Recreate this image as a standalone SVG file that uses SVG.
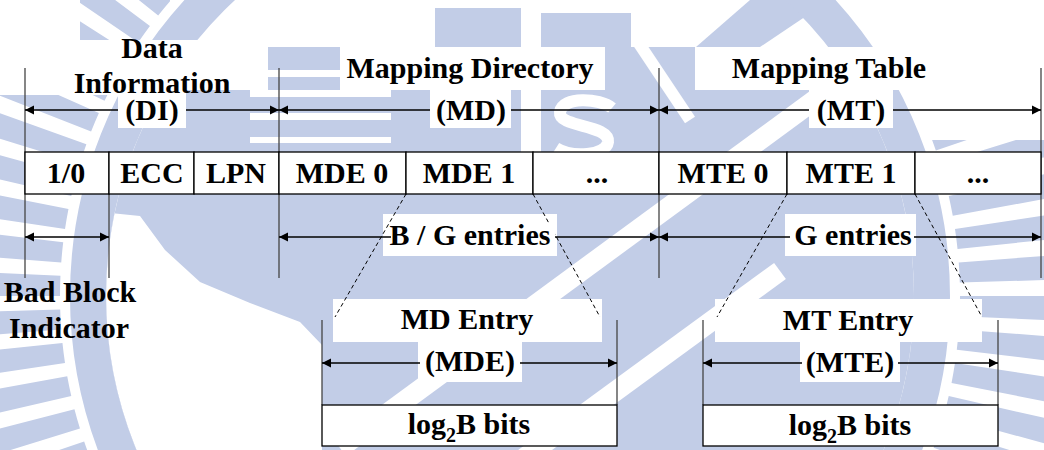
<svg xmlns="http://www.w3.org/2000/svg" width="1044" height="450" viewBox="0 0 1044 450">
  <defs>
    <style>
      .t { font-family: "Liberation Serif", "Times New Roman", serif; font-weight: bold; font-size: 30px; fill: #000; text-anchor: middle; }
      .lbl { fill: #fff; stroke: none; }
      .cell { fill: #fff; stroke: #000; stroke-width: 1.3; }
      .ext { stroke: #444; stroke-width: 1.3; fill: none; }
      .dim { stroke: #000; stroke-width: 1.3; fill: none; marker-start: url(#ah); marker-end: url(#ah); }
      .dash { stroke: #000; stroke-width: 1; stroke-dasharray: 4 3; fill: none; }
      .wm { fill: #c2cde7; stroke: none; }
      .wmw { fill: #fff; stroke: none; }
    </style>
    <marker id="ah" viewBox="0 0 10 10" refX="10" refY="5" markerWidth="9" markerHeight="11" markerUnits="userSpaceOnUse" orient="auto-start-reverse">
      <path d="M0,0 L10,5 L0,10 z" fill="#000"/>
    </marker>
    <clipPath id="inner"><circle cx="510" cy="296" r="404"/></clipPath>
    <clipPath id="tickzone">
      <rect x="0" y="95" width="110" height="355"/>
      <rect x="930" y="140" width="114" height="310"/>
      <rect x="80" y="0" width="90" height="45"/>
    </clipPath>
  </defs>

  <rect x="0" y="0" width="1044" height="450" fill="#fff"/>

  <!-- faint background emblem -->
  <g id="watermark">
    <g clip-path="url(#inner)">
      <rect class="wm" x="0" y="47" width="1044" height="403"/>
      <polygon class="wmw" points="100,212 140,216 165,250 200,282 250,303 300,322 322,345 322,450 100,450"/>
      <line x1="340" y1="448" x2="820" y2="96" stroke="#fff" stroke-width="20"/>
      <line x1="520" y1="461" x2="780" y2="271" stroke="#fff" stroke-width="20"/>
      <line x1="630" y1="30" x2="690" y2="120" stroke="#fff" stroke-width="12"/>
      <rect class="wmw" x="250" y="70" width="141" height="7"/>
      <rect class="wmw" x="250" y="90" width="141" height="7"/>
      <rect class="wmw" x="250" y="113" width="141" height="7"/>
      <rect class="wmw" x="250" y="137" width="141" height="6"/>
      <rect class="wmw" x="521" y="40" width="20" height="112"/>
      <path d="M612,108 C600,98 562,96 560,112 C558,128 610,124 608,142 C606,156 572,158 556,148" fill="none" stroke="#fff" stroke-width="12"/>
    </g>
    <rect class="wm" x="435" y="8" width="86" height="40"/>
    <rect class="wm" x="541" y="13" width="90" height="35"/>
    <polygon class="wm" points="696,47 760,47 830,0 750,0"/>
    <circle cx="510" cy="296" r="422" fill="none" stroke="#c2cde7" stroke-width="36"/>
    <g clip-path="url(#tickzone)">
      <circle cx="510" cy="296" r="545" fill="none" stroke="#c2cde7" stroke-width="190" pathLength="84" stroke-dasharray="0.6 0.4"/>
    </g>
  </g>

  <!-- white label backgrounds -->
  <g id="label-backs">
    <rect class="lbl" x="30" y="40" width="238" height="50"/>
    <rect class="lbl" x="118" y="90" width="68" height="38"/>
    <rect class="lbl" x="340" y="47" width="265" height="43"/>
    <rect class="lbl" x="430" y="90" width="81" height="38"/>
    <rect class="lbl" x="695" y="47" width="268" height="43"/>
    <rect class="lbl" x="809" y="90" width="84" height="38"/>
    <rect class="lbl" x="383" y="214" width="174" height="42"/>
    <rect class="lbl" x="785" y="214" width="131" height="42"/>
    <rect class="lbl" x="333" y="299" width="269" height="43"/>
    <rect class="lbl" x="418" y="342" width="104" height="40"/>
    <rect class="lbl" x="715" y="299" width="267" height="43"/>
    <rect class="lbl" x="800" y="342" width="100" height="40"/>
  </g>

  <!-- connectors: extension lines, dimension arrows, zoom guides -->
  <g id="connectors">
    <line class="ext" x1="25" y1="68" x2="25" y2="278"/>
    <line class="ext" x1="109" y1="194" x2="109" y2="278"/>
    <line class="ext" x1="279" y1="68" x2="279" y2="278"/>
    <line class="ext" x1="659" y1="68" x2="659" y2="278"/>
    <line class="ext" x1="1041" y1="68" x2="1041" y2="278"/>
    <line class="ext" x1="322" y1="320" x2="322" y2="405"/>
    <line class="ext" x1="617" y1="320" x2="617" y2="405"/>
    <line class="ext" x1="703" y1="320" x2="703" y2="405"/>
    <line class="ext" x1="998" y1="320" x2="998" y2="405"/>

    <line class="dim" x1="25" y1="110" x2="279" y2="110"/>
    <line class="dim" x1="279" y1="110" x2="659" y2="110"/>
    <line class="dim" x1="659" y1="110" x2="1041" y2="110"/>
    <line class="dim" x1="25" y1="237" x2="109" y2="237"/>
    <line class="dim" x1="279" y1="237" x2="659" y2="237"/>
    <line class="dim" x1="659" y1="237" x2="1041" y2="237"/>
    <line class="dim" x1="322" y1="363" x2="617" y2="363"/>
    <line class="dim" x1="703" y1="363" x2="998" y2="363"/>

    <line class="dash" x1="406" y1="194" x2="335" y2="317"/>
    <line class="dash" x1="533" y1="194" x2="600" y2="317"/>
    <line class="dash" x1="787" y1="194" x2="717" y2="317"/>
    <line class="dash" x1="915" y1="194" x2="982" y2="317"/>
  </g>

  <!-- white boxes that break the arrow shafts behind labels -->
  <g id="label-covers">
    <rect class="lbl" x="118" y="98" width="68" height="30"/>
    <rect class="lbl" x="430" y="98" width="81" height="30"/>
    <rect class="lbl" x="809" y="98" width="84" height="30"/>
    <rect class="lbl" x="391" y="224" width="164" height="28"/>
    <rect class="lbl" x="790" y="224" width="124" height="28"/>
    <rect class="lbl" x="420" y="350" width="100" height="28"/>
    <rect class="lbl" x="802" y="350" width="96" height="28"/>
  </g>

  <g id="node-di">
    <text class="t" x="152" y="58">Data</text>
    <text class="t" x="152" y="93">Information</text>
    <text class="t" x="152" y="120">(DI)</text>
  </g>
  <g id="node-md">
    <text class="t" x="470" y="78">Mapping Directory</text>
    <text class="t" x="471" y="120">(MD)</text>
  </g>
  <g id="node-mt">
    <text class="t" x="829" y="78">Mapping Table</text>
    <text class="t" x="851" y="120">(MT)</text>
  </g>

  <g id="node-row">
    <rect class="cell" x="25" y="152" width="84" height="42"/>
    <rect class="cell" x="109" y="152" width="85" height="42"/>
    <rect class="cell" x="194" y="152" width="85" height="42"/>
    <rect class="cell" x="279" y="152" width="127" height="42"/>
    <rect class="cell" x="406" y="152" width="127" height="42"/>
    <rect class="cell" x="533" y="152" width="126" height="42"/>
    <rect class="cell" x="659" y="152" width="128" height="42"/>
    <rect class="cell" x="787" y="152" width="128" height="42"/>
    <rect class="cell" x="915" y="152" width="126" height="42"/>
    <text class="t" x="66" y="183">1/0</text>
    <text class="t" x="152" y="183">ECC</text>
    <text class="t" x="236" y="183">LPN</text>
    <text class="t" x="342" y="183">MDE 0</text>
    <text class="t" x="469" y="183">MDE 1</text>
    <text class="t" x="597" y="183">...</text>
    <text class="t" x="723" y="183">MTE 0</text>
    <text class="t" x="851" y="183">MTE 1</text>
    <text class="t" x="978" y="183">...</text>
  </g>

  <g id="node-bbi">
    <text class="t" x="70" y="302">Bad Block</text>
    <text class="t" x="69" y="338">Indicator</text>
  </g>
  <g id="node-bg">
    <text class="t" x="470" y="245">B / G entries</text>
  </g>
  <g id="node-g">
    <text class="t" x="853" y="245">G entries</text>
  </g>

  <g id="node-mde">
    <text class="t" x="467" y="329">MD Entry</text>
    <text class="t" x="470" y="371">(MDE)</text>
    <rect class="cell" x="322" y="405" width="295" height="41"/>
    <text class="t" x="469" y="434">log<tspan font-size="20" dy="8">2</tspan><tspan dy="-8">B bits</tspan></text>
  </g>
  <g id="node-mte">
    <text class="t" x="848" y="330">MT Entry</text>
    <text class="t" x="850" y="372">(MTE)</text>
    <rect class="cell" x="703" y="405" width="295" height="41"/>
    <text class="t" x="850" y="435">log<tspan font-size="20" dy="8">2</tspan><tspan dy="-8">B bits</tspan></text>
  </g>
</svg>
